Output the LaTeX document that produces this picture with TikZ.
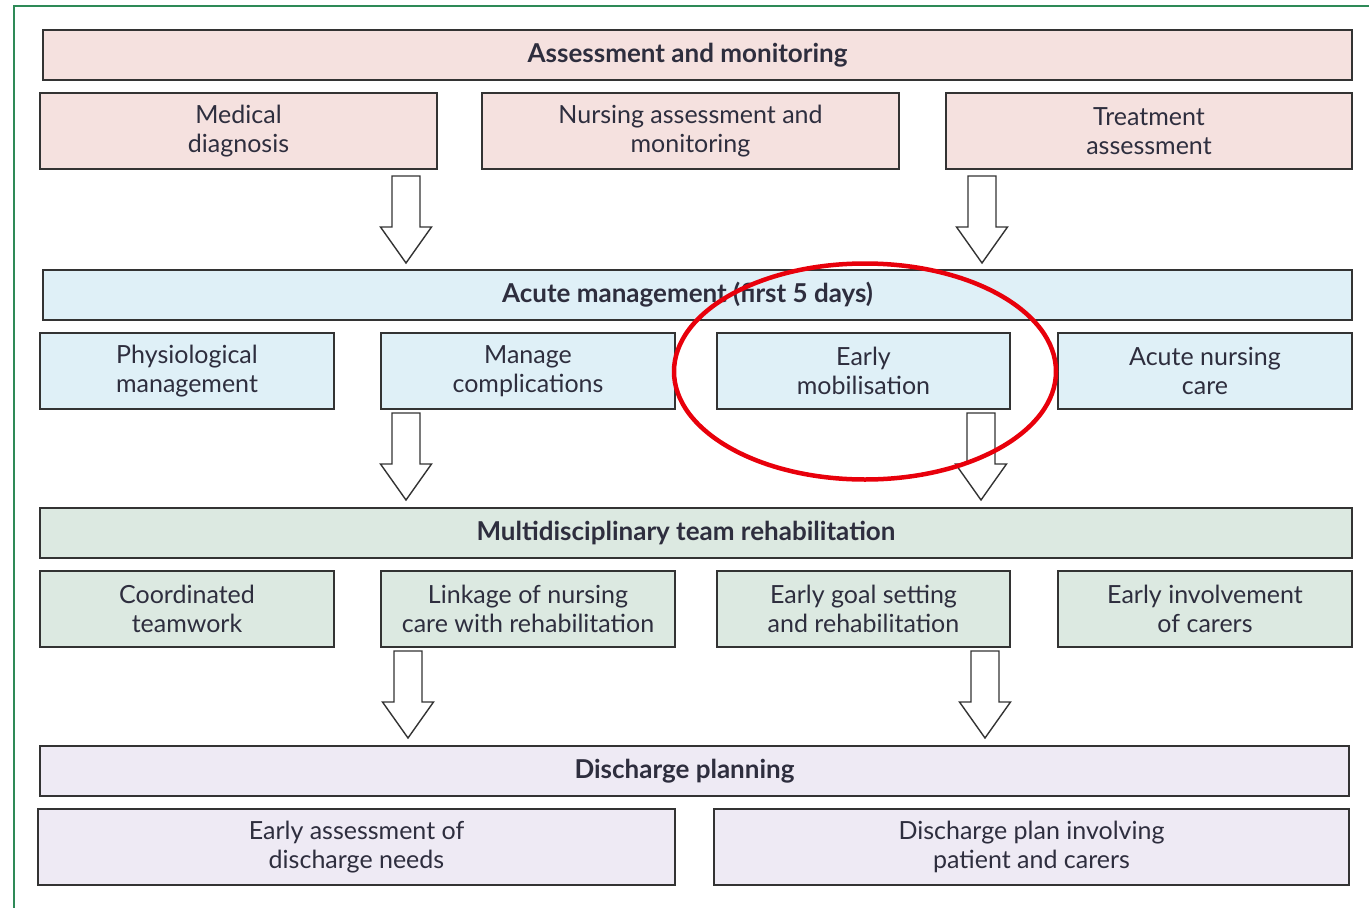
\documentclass[tikz,border=0pt]{standalone}
\usepackage{fontspec}
\setmainfont{Lato}
\definecolor{frame}{HTML}{2E8A57}
\definecolor{edge}{HTML}{333333}
\definecolor{ink}{HTML}{2E2E3E}
\definecolor{pinkfill}{HTML}{F5E1DF}
\definecolor{bluefill}{HTML}{DFF0F7}
\definecolor{greenfill}{HTML}{DCE9E1}
\definecolor{lilacfill}{HTML}{EEEAF4}
\definecolor{ring}{HTML}{E8000B}
% a heading sits a little left of its band's centre
\newcommand{\headpad}{\rule{20pt}{0pt}}
\begin{document}
\begin{tikzpicture}[x=1pt,y=-1pt,
  box/.style={draw=edge,line width=1.6pt,rectangle,inner sep=0pt,align=center,
    text=ink,font=\fontsize{25}{29}\selectfont},
  sub/.style 2 args={box,minimum width=#1,minimum height=76,fill=#2},
  head/.style 2 args={box,minimum width=#1,minimum height=50,fill=#2,
    font=\bfseries\fontsize{26}{29}\selectfont},
  arrowline/.style={draw=edge,line width=1.4pt,fill=white,line join=miter},
  darrow/.pic={\path[arrowline] (-14,0) -- (-14,51) -- (-25.5,51) -- (0,87)
    -- (25.5,51) -- (14,51) -- (14,0) -- cycle;}
]
\fill[white] (0,0) rectangle (1369,908);
\useasboundingbox (0,0) rectangle (1369,908);
% outer frame, running off the page on the right and bottom
\draw[frame,line width=2pt] (14,930) -- (14,6) -- (1390,6);

% stage 1: assessment
\node[head={1309}{pinkfill}] (h1) at (697.5,55) {Assessment and monitoring\headpad};
\node[sub={397}{pinkfill}] (md) at (238.5,131) {Medical\\diagnosis};
\node[sub={417}{pinkfill}] (na) at (690.5,131) {Nursing assessment and\\monitoring};
\node[sub={406}{pinkfill}] (ta) at (1149,131) {Treatment\\assessment};

% stage 2: acute management
\node[head={1309}{bluefill}] (h2) at (697.5,295) {Acute management (first 5 days)\headpad};
\node[sub={294}{bluefill}] (pm) at (187,371) {Physiological\\management};
\node[sub={294}{bluefill}] (mc) at (528,371) {Manage\\complications};
\node[sub={293}{bluefill}] (em) at (863.5,371) {Early\\mobilisation};
\node[sub={294}{bluefill}] (an) at (1205,371) {Acute nursing\\care};

% stage 3: rehabilitation
\node[head={1312}{greenfill}] (h3) at (696,533) {Multidisciplinary team rehabilitation\headpad};
\node[sub={294}{greenfill}] (ct) at (187,609) {Coordinated\\teamwork};
\node[sub={294}{greenfill}] (ln) at (528,609) {Linkage of nursing\\care with rehabilitation};
\node[sub={293}{greenfill}] (eg) at (863.5,609) {Early goal setting\\and rehabilitation};
\node[sub={294}{greenfill}] (ei) at (1205,609) {Early involvement\\of carers};

% stage 4: discharge
\node[head={1309}{lilacfill}] (h4) at (694.5,771) {Discharge planning\headpad};
\node[sub={637}{lilacfill}] (ea) at (356.5,847) {Early assessment of\\discharge needs};
\node[sub={635}{lilacfill}] (dp) at (1031.5,847) {Discharge plan involving\\patient and carers};

% block arrows between stages
\coordinate (a1) at (406,176);
\coordinate (a2) at (982,176);
\coordinate (a3) at (406,413);
\coordinate (a4) at (981,413);
\coordinate (a5) at (408,651);
\coordinate (a6) at (985,651);
\foreach \a in {a1,a2,a3,a4,a5,a6} \pic at (\a) {darrow};

% highlight ring
\draw[ring,line width=4.5pt] (865,371.5) ellipse [x radius=191,y radius=108];
\end{tikzpicture}
\end{document}
